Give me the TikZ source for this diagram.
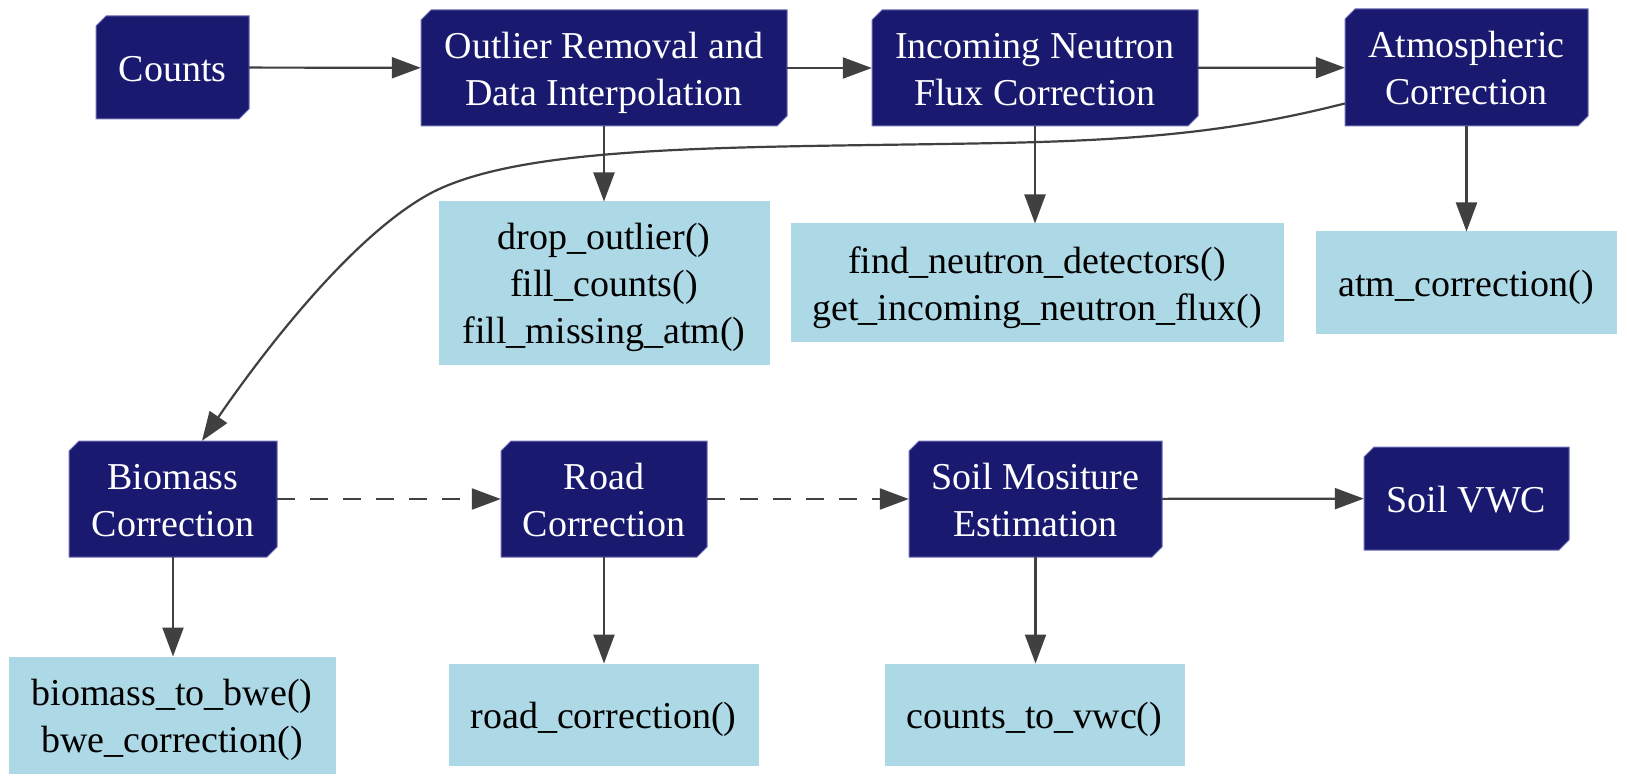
\documentclass[tikz,border=0pt]{standalone}
\usepackage{fontspec}
\setmainfont{Liberation Serif}
\usetikzlibrary{arrows.meta}
\definecolor{navy}{HTML}{191970}
\definecolor{lblue}{HTML}{ADD8E6}
\definecolor{edgecol}{HTML}{404040}
\definecolor{navyedge}{HTML}{6E6EB4}
\tikzset{
  darkshape/.style={fill=navy, draw=navyedge, line width=1pt},
  darktext/.style={inner sep=0pt, text=white, align=center, font=\fontsize{38}{46.7}\selectfont},
  lightbox/.style={fill=lblue, draw=lblue, line width=1pt, inner sep=0pt, text=black, align=center, font=\fontsize{38}{46.7}\selectfont},
  conn/.style={draw=edgecol, line width=2.2pt, -{Triangle[length=29pt,width=21pt]}},
  dashconn/.style={conn, dash pattern=on 18pt off 15pt},
}
\newcommand\topstrut{\rule{0pt}{38pt}}
\newcommand\botstrut{\rule[-10.6pt]{0pt}{10.6pt}}
\newcommand\dbox[6]{%
  \filldraw[darkshape] ({#2+10},#3) -- (#4,#3) -- (#4,{#5-10}) -- ({#4-10},#5) -- (#2,#5) -- (#2,{#3+10}) -- cycle;
  \node[darktext, minimum width={#4-#2}, minimum height={#5-#3}] (#1) at ({(#2+#4)/2},{(#3+#5)/2}) {\topstrut#6\botstrut};}
\newcommand\lbox[6]{%
  \node[lightbox, minimum width={#4-#2}, minimum height={#5-#3}] (#1) at ({(#2+#4)/2},{(#3+#5)/2}) {\topstrut#6\botstrut};}
\begin{document}
\begin{tikzpicture}[x=1pt, y=-1pt]
\useasboundingbox[fill=white] (0,0) rectangle (1627,783);
% dark nodes
\dbox{counts}{96}{16}{249}{119}{Counts}
\dbox{outlier}{421}{10}{787}{126}{Outlier Removal and\\Data Interpolation}
\dbox{incoming}{872}{10}{1198}{126}{Incoming Neutron\\Flux Correction}
\dbox{atmos}{1345}{9}{1588}{126}{Atmospheric\\Correction}
\dbox{biomass}{69}{441}{277}{557}{Biomass\\Correction}
\dbox{road}{501}{441}{707}{557}{Road\\Correction}
\dbox{soil}{909}{441}{1162}{557}{Soil Mositure\\Estimation}
\dbox{vwc}{1364}{447}{1569}{550}{Soil VWC}
% light boxes
\lbox{dropf}{439}{202}{769}{364}{drop\_outlier()\\fill\_counts()\\fill\_missing\_atm()}
\lbox{findf}{791}{224}{1283}{342}{find\_neutron\_detectors()\\get\_incoming\_neutron\_flux()}
\lbox{atmf}{1316}{232}{1616}{334}{atm\_correction()}
\lbox{biof}{9}{657}{335}{773}{biomass\_to\_bwe()\\bwe\_correction()}
\lbox{roadf}{449}{664}{758}{765}{road\_correction()}
\lbox{vwcf}{885}{664}{1184}{765}{counts\_to\_vwc()}
% connectors
\draw[conn] (counts) -- (outlier);
\draw[conn] (outlier) -- (incoming);
\draw[conn] (incoming) -- (atmos);
\draw[conn] (outlier) -- (outlier.south |- dropf.north);
\draw[conn] (incoming) -- (incoming.south |- findf.north);
\draw[conn] (atmos) -- (atmos.south |- atmf.north);
\draw[conn] ([yshift=-36pt]atmos.west) .. controls (1240,130) and (1150,140) .. (1000,143)
  .. controls (750,148) and (531,142.5) .. (433,192)
  .. controls (360,230) and (275,335) .. ([xshift=29pt]biomass.north);
\draw[conn] (biomass) -- (biomass.south |- biof.north);
\draw[conn] (road) -- (road.south |- roadf.north);
\draw[conn] (soil) -- (soil.south |- vwcf.north);
\draw[dashconn] (biomass) -- (road);
\draw[dashconn] (road) -- (soil);
\draw[conn] (soil) -- (vwc);
\end{tikzpicture}
\end{document}
